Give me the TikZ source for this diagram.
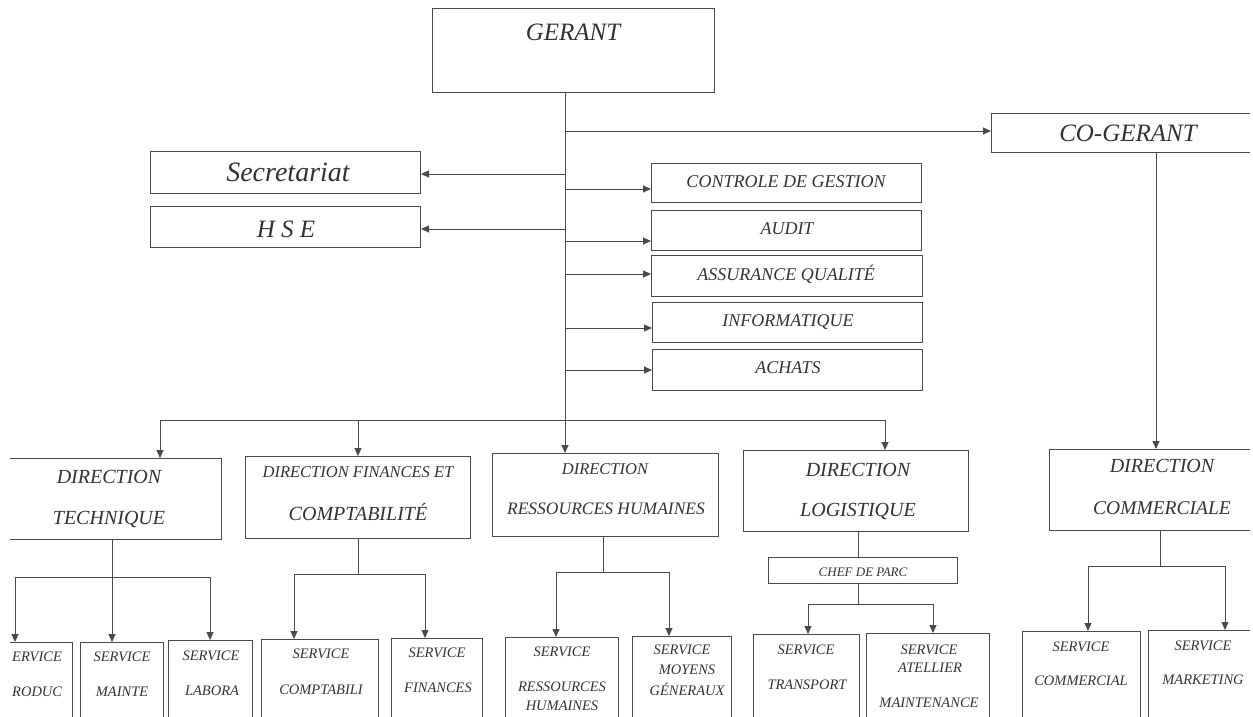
\documentclass[tikz,border=0pt]{standalone}
\usepackage{fontspec}
\setmainfont{Liberation Serif}
\usetikzlibrary{arrows.meta}
\definecolor{ink}{HTML}{333333}
\definecolor{lineink}{HTML}{4A4A4A}
\newcommand\fs[1]{\itshape\fontsize{#1}{#1}\selectfont}
\newcommand\mkbox[5]{%
  \pgfmathsetmacro\bxw{#4-#2}\pgfmathsetmacro\bxh{#5-#3}%
  \node[box,minimum width=\bxw pt,minimum height=\bxh pt] (#1) at (#2,#3) {};}
\begin{document}
\begin{tikzpicture}[x=1pt,y=-1pt,
  ln/.style={draw=lineink,line width=1pt},
  arr/.style={ln,-{Triangle[length=8pt,width=7pt]}},
  box/.style={draw=lineink,line width=1pt,rectangle,inner sep=0pt,anchor=north west},
  txt/.style={text=ink,inner sep=0pt,align=center}]
\useasboundingbox (0,0) rectangle (1253,717);
\clip (10,0) rectangle (1250,717);

% boxes
\mkbox{gerant}{432}{8}{714}{92}
\mkbox{cog}{991}{113}{1300}{152}
\mkbox{secr}{150}{151}{420}{193}
\mkbox{hse}{150}{206}{420}{247}
\mkbox{cg}{651}{163}{921}{202}
\mkbox{audit}{651}{210}{921}{250}
\mkbox{aq}{651}{255}{922}{296}
\mkbox{info}{652}{302}{922}{342}
\mkbox{achats}{652}{349}{922}{390}
\mkbox{dt}{-5}{458}{221}{539}
\mkbox{dfc}{245}{456}{470}{538}
\mkbox{drh}{492}{453}{718}{536}
\mkbox{dl}{743}{450}{968}{531}
\mkbox{chef}{768}{557}{957}{583}
\mkbox{dc}{1049}{449}{1300}{530}
\mkbox{sprod}{-5}{642}{72}{760}
\mkbox{smaint}{80}{642}{163}{760}
\mkbox{slab}{168}{640}{252}{760}
\mkbox{scompta}{261}{639}{378}{760}
\mkbox{sfin}{391}{638}{482}{760}
\mkbox{srh}{505}{637}{618}{760}
\mkbox{smg}{632}{636}{731}{760}
\mkbox{stransp}{753}{634}{859}{760}
\mkbox{satel}{866}{633}{989}{760}
\mkbox{scomm}{1022}{631}{1140}{760}
\mkbox{smark}{1148}{630}{1300}{760}

% texts
\node[txt,font=\fs{25}] (tgerant) at (573,32) {GERANT};
\node[txt,font=\fs{25}] (tcog) at (1128,133) {CO-GERANT};
\node[txt,font=\fs{28}] (tsecr) at (288,172) {Secretariat};
\node[txt,font=\fs{25}] (thse) at (286,229) {H S E};
\node[txt,font=\fs{18}] (tcg) at (786,182) {CONTROLE DE GESTION};
\node[txt,font=\fs{18}] (taudit) at (787,229) {AUDIT};
\node[txt,font=\fs{18}] (taq) at (786,274) {ASSURANCE QUALITÉ};
\node[txt,font=\fs{18}] (tinfo) at (788,322) {INFORMATIQUE};
\node[txt,font=\fs{18}] (tachats) at (788,368) {ACHATS};

\node[txt,font=\fs{20}] (tdt1) at (109,477) {DIRECTION};
\node[txt,font=\fs{20}] (tdt2) at (109,519) {TECHNIQUE};
\node[txt,font=\fs{16.5}] (tdfc1) at (358,472) {DIRECTION FINANCES ET};
\node[txt,font=\fs{20}] (tdfc2) at (358,512) {COMPTABILITÉ};
\node[txt,font=\fs{16.5}] (tdrh1) at (605,469) {DIRECTION};
\node[txt,font=\fs{17.5}] (tdrh2) at (606,509) {RESSOURCES HUMAINES};
\node[txt,font=\fs{20}] (tdl1) at (858,470) {DIRECTION};
\node[txt,font=\fs{20}] (tdl2) at (858,511) {LOGISTIQUE};
\node[txt,font=\fs{13}] (tchef) at (863,572) {CHEF DE PARC};
\node[txt,font=\fs{20}] (tdc1) at (1162,466) {DIRECTION};
\node[txt,font=\fs{19.5}] (tdc2) at (1162,508) {COMMERCIALE};

\node[txt,font=\fs{14.5},anchor=west] (tsp1) at (12,657) {ERVICE};
\node[txt,font=\fs{14.5},anchor=west] (tsp2) at (12,692) {RODUC};
\node[txt,font=\fs{14.5}] (tsm1) at (122,657) {SERVICE};
\node[txt,font=\fs{14.5}] (tsm2) at (122,692) {MAINTE};
\node[txt,font=\fs{14.5}] (tsl1) at (211,656) {SERVICE};
\node[txt,font=\fs{14.5}] (tsl2) at (212,691) {LABORA};
\node[txt,font=\fs{14.5}] (tsc1) at (321,654) {SERVICE};
\node[txt,font=\fs{14.5}] (tsc2) at (321,690) {COMPTABILI};
\node[txt,font=\fs{14.5}] (tsf1) at (437,653) {SERVICE};
\node[txt,font=\fs{14.5}] (tsf2) at (438,688) {FINANCES};
\node[txt,font=\fs{14.5}] (tsr1) at (562,652) {SERVICE};
\node[txt,font=\fs{14.5}] (tsr2) at (562,687) {RESSOURCES};
\node[txt,font=\fs{14.5}] (tsr3) at (562,706) {HUMAINES};
\node[txt,font=\fs{14.5}] (tsg1) at (682,650) {SERVICE};
\node[txt,font=\fs{14.5}] (tsg2) at (687,670) {MOYENS};
\node[txt,font=\fs{14.5}] (tsg3) at (687,689) {GÉNERAUX};
\node[txt,font=\fs{14.5}] (tst1) at (806,650) {SERVICE};
\node[txt,font=\fs{14.5}] (tst2) at (807,685) {TRANSPORT};
\node[txt,font=\fs{14.5}] (tsa1) at (929,650) {SERVICE};
\node[txt,font=\fs{14.5}] (tsa2) at (930,668) {ATELLIER};
\node[txt,font=\fs{14.5}] (tsa3) at (929,703) {MAINTENANCE};
\node[txt,font=\fs{14.5}] (tsx1) at (1081,647) {SERVICE};
\node[txt,font=\fs{14.5}] (tsx2) at (1081,681) {COMMERCIAL};
\node[txt,font=\fs{14.5}] (tsk1) at (1203,646) {SERVICE};
\node[txt,font=\fs{14.5}] (tsk2) at (1203,680) {MARKETING};

% trunk
\coordinate (tr) at ([xshift=133pt]gerant.south west);
\draw[arr] (tr) -- (tr |- drh.north);
\draw[arr] (tr |- 0,131) -- (cog.west |- 0,131);
\draw[arr] (tr |- 0,174) -- (secr.east |- 0,174);
\draw[arr] (tr |- 0,229) -- (hse.east |- 0,229);
\draw[arr] (tr |- 0,189) -- (cg.west |- 0,189);
\draw[arr] (tr |- 0,241) -- (audit.west |- 0,241);
\draw[arr] (tr |- 0,274) -- (aq.west |- 0,274);
\draw[arr] (tr |- 0,328) -- (info.west |- 0,328);
\draw[arr] (tr |- 0,370) -- (achats.west |- 0,370);

% top bus
\coordinate (busL) at (160,420);
\coordinate (busR) at (885,420);
\draw[ln] (busL) -- (busR);
\draw[arr] (busL) -- (busL |- dt.north);
\draw[arr] (dfc.north |- busL) -- (dfc.north);
\draw[arr] (busR) -- (busR |- dl.north);

% co-gerant to direction commerciale
\coordinate (cgx) at (1156,152);
\draw[arr] (cgx) -- (cgx |- dc.north);

% direction technique
\coordinate (dtb) at (112,577);
\coordinate (dtL) at (15,577);
\coordinate (dtR) at (210,577);
\draw[ln] (dtb |- dt.south) -- (dtb);
\draw[ln] (dtL) -- (dtR);
\draw[arr] (dtL) -- (dtL |- sprod.north);
\draw[arr] (dtb) -- (dtb |- smaint.north);
\draw[arr] (dtR) -- (dtR |- slab.north);

% direction finances
\coordinate (dfb) at (358,574);
\coordinate (dfL) at (294,574);
\coordinate (dfR) at (425,574);
\draw[ln] (dfb |- dfc.south) -- (dfb);
\draw[ln] (dfL) -- (dfR);
\draw[arr] (dfL) -- (dfL |- scompta.north);
\draw[arr] (dfR) -- (dfR |- sfin.north);

% direction RH
\coordinate (drb) at (603,572);
\coordinate (drL) at (556,572);
\coordinate (drR) at (669,572);
\draw[ln] (drb |- drh.south) -- (drb);
\draw[ln] (drL) -- (drR);
\draw[arr] (drL) -- (drL |- srh.north);
\draw[arr] (drR) -- (drR |- smg.north);

% direction logistique
\coordinate (dlb) at (858,604);
\coordinate (dlL) at (808,604);
\coordinate (dlR) at (933,604);
\draw[ln] (dlb |- dl.south) -- (dlb |- chef.north);
\draw[ln] (dlb |- chef.south) -- (dlb);
\draw[ln] (dlL) -- (dlR);
\draw[arr] (dlL) -- (dlL |- stransp.north);
\draw[arr] (dlR) -- (dlR |- satel.north);

% direction commerciale
\coordinate (dcb) at (1160,566);
\coordinate (dcL) at (1088,566);
\coordinate (dcR) at (1225,566);
\draw[ln] (dcb |- dc.south) -- (dcb);
\draw[ln] (dcL) -- (dcR);
\draw[arr] (dcL) -- (dcL |- scomm.north);
\draw[arr] (dcR) -- (dcR |- smark.north);
\end{tikzpicture}
\end{document}
